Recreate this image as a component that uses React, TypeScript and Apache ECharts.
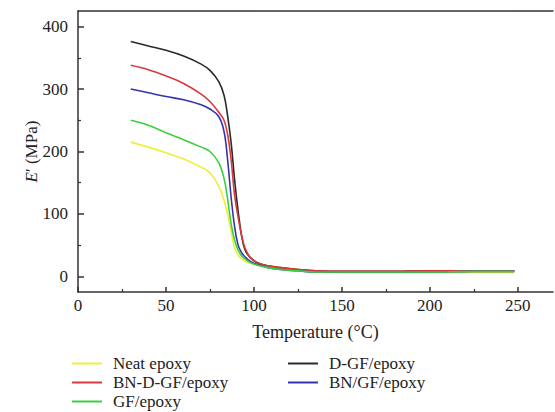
import React, { useEffect, useRef } from "react";
import * as echarts from "echarts";

const temps = [30, 40, 50, 60, 70, 75, 80, 83, 85, 87, 89, 91, 93, 95, 98, 102, 108, 115, 125, 135, 150, 175, 200, 225, 248];
const neatEpoxy = [215, 207, 198, 188, 175, 166, 145, 122, 100, 72, 46, 34, 28, 25, 21, 19, 16, 14, 11, 7, 6, 6, 6, 6, 6];
const dgfEpoxy = [376, 369, 362, 353, 340, 330, 312, 290, 258, 215, 155, 105, 65, 42, 30, 22, 17, 14, 11, 9, 8, 8, 9, 9, 9];
const bnDgfEpoxy = [338, 331, 321, 309, 292, 280, 263, 250, 228, 188, 130, 95, 65, 45, 30, 22, 17, 14, 11, 9, 8, 8, 9, 9, 9];
const bnGfEpoxy = [300, 294, 288, 283, 275, 268, 256, 232, 188, 128, 80, 50, 38, 31, 24, 19, 14, 11, 9, 7, 7, 7, 7, 8, 8];
const gfEpoxy = [250, 242, 230, 219, 207, 200, 182, 157, 125, 85, 58, 42, 33, 28, 22, 18, 14, 11, 9, 7, 7, 7, 7, 8, 8];

const seriesNames = ["Neat epoxy", "D-GF/epoxy", "BN-D-GF/epoxy", "BN/GF/epoxy", "GF/epoxy"];
const seriesValues = [neatEpoxy, dgfEpoxy, bnDgfEpoxy, bnGfEpoxy, gfEpoxy];
const seriesColors = ["#eeee3a", "#2a2a2a", "#d9393c", "#3434b0", "#3ccf3c"];

const xTicks = [0, 50, 100, 150, 200, 250];
const yTicks = [0, 100, 200, 300, 400];
const yMinorTicks = [50, 150, 250, 350];

const FONT = "Liberation Serif, serif";

const GRID_LEFT = 78;
const GRID_RIGHT = 2;
const WIDTH = 555;

// legend slots: [name index, left, top]
const legendSlots: [number, number, number][] = [
  [0, 72, 355],
  [2, 72, 374],
  [4, 72, 393],
  [1, 288, 355],
  [3, 288, 374],
];

export default function App() {
  const ref = useRef<HTMLDivElement>(null);
  useEffect(() => {
    if (!ref.current) return;
    const chart = echarts.init(ref.current, undefined, { renderer: "svg" });
    const axisLineStyle = { color: "#333", width: 1.5 };
    chart.setOption({
      animation: false,
      backgroundColor: "#fff",
      grid: { left: GRID_LEFT, top: 11, right: GRID_RIGHT, bottom: 120 },
      xAxis: [
        {
          type: "value",
          min: 0,
          max: 270,
          interval: 50,
          name: "Temperature (°C)",
          nameLocation: "middle",
          nameGap: 31,
          nameTextStyle: { fontFamily: FONT, fontSize: 18, color: "#222" },
          axisLine: { show: true, onZero: false, lineStyle: axisLineStyle },
          axisTick: { show: true, inside: true, length: 5, customValues: xTicks, lineStyle: { color: "#333", width: 1.5 } },
          minorTick: { show: true, splitNumber: 2, length: 3, lineStyle: { color: "#333", width: 1.2 } },
          axisLabel: {
            fontFamily: FONT,
            fontSize: 17,
            color: "#222",
            margin: 5,
            customValues: xTicks,
          },
          splitLine: { show: false },
          minorSplitLine: { show: false },
        },
        {
          type: "value",
          position: "top",
          min: 0,
          max: 270,
          interval: 50,
          axisLine: { show: true, onZero: false, lineStyle: axisLineStyle },
          axisTick: { show: false },
          minorTick: { show: false },
          axisLabel: { show: false },
          splitLine: { show: false },
        },
      ],
      yAxis: [
        {
          type: "value",
          position: "left",
          min: -25,
          max: 425,
          name: "{i|E}{s|′} (MPa)",
          nameLocation: "middle",
          nameGap: 38,
          nameMoveOverlap: false,
          nameTextStyle: {
            fontFamily: FONT,
            fontSize: 17,
            color: "#222",
            rich: {
              i: { fontFamily: FONT, fontSize: 17, fontStyle: "italic", color: "#222" },
              s: { fontFamily: FONT, fontSize: 17, color: "#222" },
            },
          },
          axisLine: { show: true, onZero: false, lineStyle: axisLineStyle },
          axisTick: { show: true, inside: true, length: 6, customValues: yTicks, lineStyle: { color: "#333", width: 1.5 } },
          axisLabel: {
            fontFamily: FONT,
            fontSize: 17,
            color: "#222",
            margin: 10,
            customValues: yTicks,
          },
          splitLine: { show: false },
        },
        {
          type: "value",
          position: "right",
          offset: -(WIDTH - GRID_LEFT - GRID_RIGHT),
          min: -25,
          max: 425,
          axisLine: { show: false, onZero: false },
          axisTick: { show: true, inside: false, length: 3, customValues: yMinorTicks, lineStyle: { color: "#333", width: 1.2 } },
          axisLabel: { show: false },
          splitLine: { show: false },
        },
      ],
      legend: legendSlots.map(([idx, left, top]) => ({
        data: [seriesNames[idx]],
        orient: "horizontal",
        left,
        top,
        padding: 0,
        itemWidth: 30,
        itemHeight: 2,
        icon: "rect",
        textStyle: { fontFamily: FONT, fontSize: 17, color: "#222", padding: [0, 0, 0, 6] },
      })),
      series: seriesNames.map((name, i) => ({
        name,
        type: "line",
        xAxisIndex: 0,
        yAxisIndex: 0,
        data: temps.map((t, j) => [t, seriesValues[i][j]]),
        showSymbol: false,
        symbol: "none",
        smooth: 0.4,
        color: seriesColors[i],
        lineStyle: { color: seriesColors[i], width: 1.6 },
      })),
    });
    return () => chart.dispose();
  }, []);
  return <div ref={ref} style={{ position: "fixed", left: 0, top: 0, width: 555, height: 412 }} />;
}
